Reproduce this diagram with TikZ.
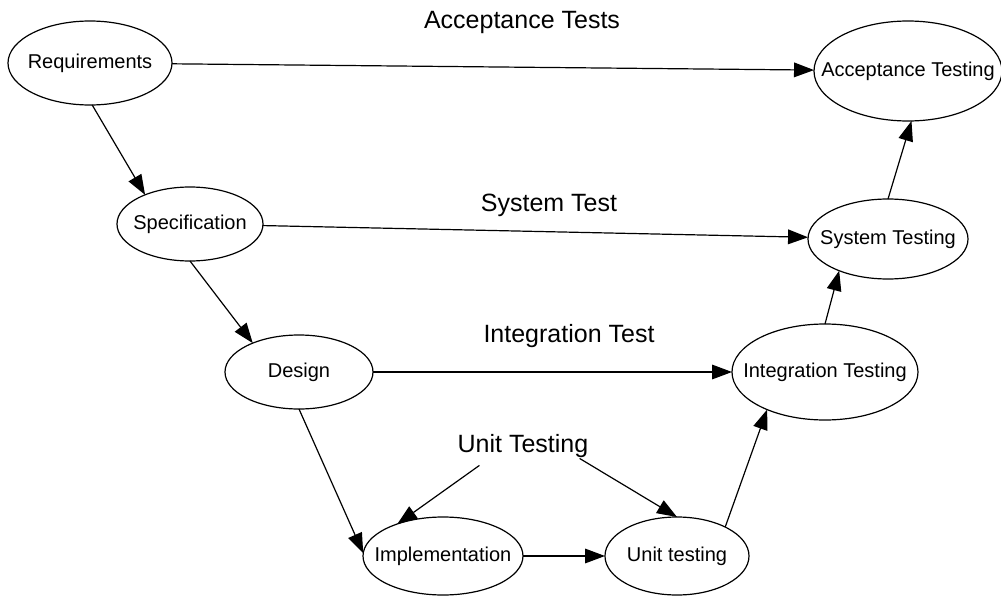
\documentclass[tikz,border=0pt]{standalone}
\usepackage{fontspec}
\setmainfont{Liberation Sans}
\usetikzlibrary{shapes.geometric,arrows.meta,calc}
\newcommand{\ctrtext}[1]{\makebox[0pt]{#1}}
\begin{document}
\begin{tikzpicture}[x=0.75pt,y=-0.75pt,
  stage/.style={draw=black,line width=0.9pt,ellipse,inner sep=0pt,outer sep=0pt,
    font=\fontsize{15pt}{18pt}\selectfont},
  sz/.style 2 args={minimum width=#1*1.5pt,minimum height=#2*1.5pt},
  phase/.style={font=\fontsize{18.75pt}{22pt}\selectfont,inner sep=3pt},
  conn/.style={draw=black,line width=0.9pt,-{Triangle[length=15pt,width=11pt]}}]
\useasboundingbox (0,0) rectangle (1001,596);

\node[stage,sz={82}{42}] (req) at (90,63) {\ctrtext{Requirements}};
\node[stage,sz={94}{50}] (acc) at (908,71) {\ctrtext{Acceptance Testing}};
\node[stage,sz={73}{37}] (spec) at (190,224) {\ctrtext{Specification}};
\node[stage,sz={80}{40}] (sys) at (888,239) {\ctrtext{System Testing}};
\node[stage,sz={74}{37}] (des) at (299,372) {\ctrtext{Design}};
\node[stage,sz={93}{48}] (integ) at (825,372) {\ctrtext{Integration Testing}};
\node[stage,sz={80}{39}] (impl) at (443,556) {\ctrtext{Implementation}};
\node[stage,sz={72}{39}] (unit) at (677,556) {\ctrtext{Unit testing}};

\node[phase] (lacc) at (522,22) {Acceptance Tests};
\node[phase] (lsys) at (549,205.5) {System Test};
\node[phase] (lint) at (569,336.5) {Integration Test};
\node[phase] (lunit) at (523,446.5) {Unit Testing};

\draw[conn] (req) -- (acc);
\draw[conn] (spec) -- (sys);
\draw[conn] (des) -- (integ);
\draw[conn] (impl) -- (unit);
\draw[conn] (req.273) -- (spec.147);
\draw[conn] (spec.south) -- (des.148);
\draw[conn] (des.south) -- (impl.178);
\draw[conn] (unit.31) -- (integ.213);
\draw[conn] (integ.north) -- (sys.213);
\draw[conn] (sys.north) -- (acc.274);
\draw[conn] ($(lunit.south west)+(26,3)$) -- (impl.145);
\draw[conn] ($(lunit.south east)+(-13,-4)$) -- (unit.north);
\end{tikzpicture}
\end{document}
